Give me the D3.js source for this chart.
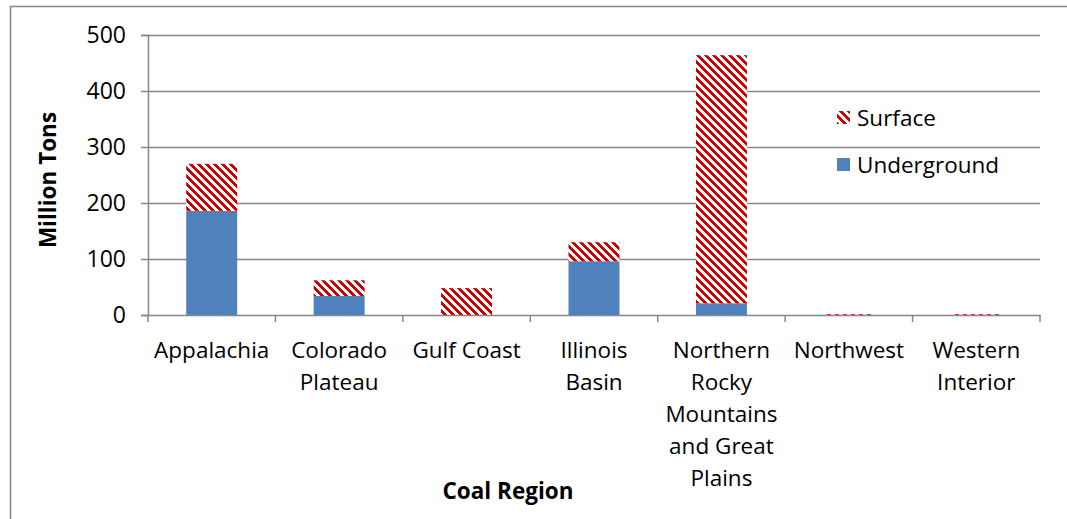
<!DOCTYPE html>
<html lang="en">
<head>
<meta charset="UTF-8">
<title>Coal Region</title>
<script src="https://cdnjs.cloudflare.com/ajax/libs/d3/7.8.5/d3.min.js"></script>
<style>
body { margin: 0; background: #fff; }
text { font-family: "Open Sans", "Noto Sans", sans-serif; fill: #000; }
</style>
</head>
<body>
<div id="chart"></div>
<script>
// categories (explicit line breaks as in the original)
var regions = ["Appalachia", "Colorado Plateau", "Gulf Coast", "Illinois Basin",
    "Northern Rocky Mountains and Great Plains", "Northwest", "Western Interior"];
var regionLines = [["Appalachia"], ["Colorado", "Plateau"], ["Gulf Coast"], ["Illinois", "Basin"],
    ["Northern", "Rocky", "Mountains", "and Great", "Plains"], ["Northwest"], ["Western", "Interior"]];
var underground = [186, 34, 0, 96, 21, 0, 0];
var surface = [84, 28, 48, 34, 443, 1.5, 1.5];
var yTicks = [0, 100, 200, 300, 400, 500];
var seriesNames = ["Surface", "Underground"];

var W = 1067, H = 519;
var margin = {top: 35, right: 27, bottom: 204, left: 148};
var width = W - margin.left - margin.right,
    height = H - margin.top - margin.bottom;

var svg = d3.select("#chart").append("svg")
    .attr("width", W)
    .attr("height", H);

// hatch pattern (wide downward diagonal)
var pat = svg.append("defs").append("pattern")
    .attr("id", "hatch")
    .attr("patternUnits", "userSpaceOnUse")
    .attr("width", 8)
    .attr("height", 8);
pat.append("rect").attr("width", 8).attr("height", 8).attr("fill", "#fff");
for (var r = 0; r < 8; r++) {
    for (var k = 0; k < 4; k++) {
        pat.append("rect")
            .attr("x", (r + k) % 8)
            .attr("y", r)
            .attr("width", 1)
            .attr("height", 1)
            .attr("fill", "#d00000")
            .attr("shape-rendering", "crispEdges");
    }
}

// outer border
svg.append("path")
    .attr("d", "M10.5," + H + "V6.5H" + W)
    .attr("fill", "none")
    .attr("stroke", "#868686")
    .attr("stroke-width", 1.5);

var g = svg.append("g")
    .attr("transform", "translate(" + margin.left + "," + margin.top + ")");

var x = d3.scaleBand().domain(regions).range([0, width]).paddingInner(0.6).paddingOuter(0.3);
var xb = d3.scaleBand().domain(regions).range([0, width]);
var y = d3.scaleLinear().domain([0, 500]).range([height, 0]);

// gridlines
g.selectAll(".grid")
    .data(yTicks.slice(1))
    .enter().append("line")
    .attr("x1", 0).attr("x2", width)
    .attr("y1", function(d) { return Math.round(y(d)) + 0.5; })
    .attr("y2", function(d) { return Math.round(y(d)) + 0.5; })
    .attr("stroke", "#868686")
    .attr("stroke-width", 1.5);

// bars
g.selectAll(".under")
    .data(regions)
    .enter().append("rect")
    .attr("x", function(d) { return x(d); })
    .attr("width", x.bandwidth())
    .attr("y", function(d, i) { return y(underground[i]); })
    .attr("height", function(d, i) { return height - y(underground[i]); })
    .attr("fill", "#4f81bd");

g.selectAll(".surf")
    .data(regions)
    .enter().append("rect")
    .attr("x", function(d) { return x(d); })
    .attr("width", x.bandwidth())
    .attr("y", function(d, i) { return y(underground[i] + surface[i]); })
    .attr("height", function(d, i) { return y(underground[i]) - y(underground[i] + surface[i]); })
    .attr("fill", "url(#hatch)");

// y axis
var yAxis = g.append("g")
    .call(d3.axisLeft(y).tickValues(yTicks).tickSize(7).tickPadding(15));
yAxis.selectAll("text").style("font-size", "23px");

// x axis
var xAxis = g.append("g")
    .attr("transform", "translate(0," + height + ")")
    .call(d3.axisBottom(xb).tickSize(0).tickFormat(""));
g.append("g")
    .attr("transform", "translate(0," + height + ")")
    .selectAll("line")
    .data(d3.range(regions.length + 1))
    .enter().append("line")
    .attr("x1", function(d) { return d * xb.step(); })
    .attr("x2", function(d) { return d * xb.step(); })
    .attr("y1", 0).attr("y2", 7)
    .attr("stroke", "#868686")
    .attr("stroke-width", 1.5);

[yAxis, xAxis].forEach(function(a) {
    a.select(".domain").attr("stroke", "#868686").attr("stroke-width", 1.5);
    a.selectAll(".tick line").attr("stroke", "#868686").attr("stroke-width", 1.5);
});

var labels = g.selectAll(".cat")
    .data(regions)
    .enter().append("text")
    .attr("text-anchor", "middle")
    .attr("transform", function(d) {
        return "translate(" + (xb(d) + xb.bandwidth() / 2) + "," + (height + 43) + ")";
    })
    .style("font-size", "22.5px");
labels.selectAll("tspan")
    .data(function(d, i) { return regionLines[i]; })
    .enter().append("tspan")
    .attr("x", 0)
    .attr("y", function(d, j) { return j * 32; })
    .text(function(d) { return d; });

// axis titles
svg.append("text")
    .attr("transform", "translate(56,180) rotate(-90)")
    .attr("text-anchor", "middle")
    .style("font-size", "22.5px")
    .style("font-weight", "bold")
    .text("Million Tons");

svg.append("text")
    .attr("x", 508)
    .attr("y", 499)
    .attr("text-anchor", "middle")
    .style("font-size", "22.5px")
    .style("font-weight", "bold")
    .text("Coal Region");

// legend
var legend = svg.append("g");
var legendY = [118, 165];
seriesNames.forEach(function(name, i) {
    legend.append("rect")
        .attr("x", 837)
        .attr("y", legendY[i] - 7)
        .attr("width", 13)
        .attr("height", 13)
        .attr("fill", i === 0 ? "url(#hatch)" : "#4f81bd");
    legend.append("text")
        .attr("x", 857)
        .attr("y", legendY[i] + 8)
        .style("font-size", "22.5px")
        .text(name);
});
</script>
</body>
</html>
